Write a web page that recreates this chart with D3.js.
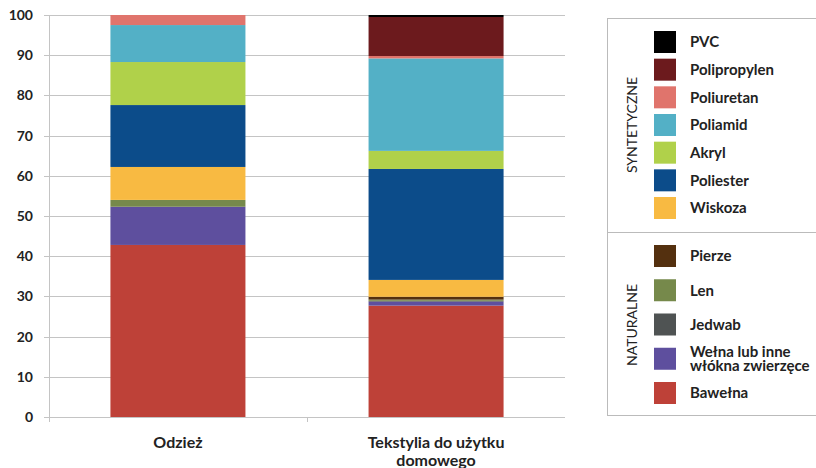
<!DOCTYPE html>
<html lang="pl">
<head>
<meta charset="UTF-8">
<title>Włókna</title>
<style>
    html, body { margin: 0; height: 100%; overflow: hidden; background: #fff; }
    text { font-family: Lato, "Open Sans", sans-serif; }
</style>
<script src="https://d3js.org/d3.v7.min.js"></script>
</head>
<body>
<svg id="svg"></svg>
<script>
    const width = 816, height = 468;
    const svg = d3.select('#svg').attr('width', width).attr('height', height);

    // data
    const categories = ['Odzież', 'Tekstylia do użytku domowego'];
    const categoryLines = [['Odzież'], ['Tekstylia do użytku', 'domowego']];
    const seriesNames = ['Bawełna', 'Wełna lub inne włókna zwierzęce', 'Jedwab', 'Len', 'Pierze',
        'Wiskoza', 'Poliester', 'Akryl', 'Poliamid', 'Poliuretan', 'Polipropylen', 'PVC'];
    const bawelna = [42.8, 27.7];
    const welna = [9.5, 1.0];
    const jedwab = [0, 0.2];
    const len = [1.7, 0.3];
    const pierze = [0, 0.7];
    const wiskoza = [8.2, 4.2];
    const poliester = [15.4, 27.6];
    const akryl = [10.7, 4.5];
    const poliamid = [9.2, 23.0];
    const poliuretan = [2.5, 0.6];
    const polipropylen = [0, 9.7];
    const pvc = [0, 0.5];
    const colors = ['#be4138', '#5e4f9e', '#4f5353', '#76894b', '#54300f',
        '#f8ba42', '#0c4c8a', '#b0d14a', '#53b0c6', '#e0746c', '#6c1a1d', '#000000'];
    const yTicks = [0, 10, 20, 30, 40, 50, 60, 70, 80, 90, 100];

    const seriesValues = [bawelna, welna, jedwab, len, pierze, wiskoza, poliester,
        akryl, poliamid, poliuretan, polipropylen, pvc];
    const table = categories.map((c, i) => {
        const row = { cat: c };
        seriesNames.forEach((s, j) => row[s] = seriesValues[j][i]);
        return row;
    });

    const margin = { top: 15, left: 49, bottom: 51, right: 251 };
    const innerWidth = width - margin.left - margin.right;
    const innerHeight = height - margin.top - margin.bottom;
    const g = svg.append('g').attr('transform', `translate(${margin.left},${margin.top})`);

    const xScale = d3.scaleBand().domain(categories).range([0, innerWidth]).paddingInner(0.477).paddingOuter(0.238);
    const yScale = d3.scaleLinear().domain([0, 100]).range([innerHeight, 0]);
    const color = d3.scaleOrdinal().domain(seriesNames).range(colors);

    // grid
    g.append('g').selectAll('line').data(yTicks).join('line')
        .attr('x1', -5).attr('x2', innerWidth)
        .attr('y1', d => Math.round(yScale(d)) + 0.5).attr('y2', d => Math.round(yScale(d)) + 0.5)
        .attr('stroke', '#c4c4c4').attr('stroke-width', 1);
    g.append('line').attr('x1', 0.5).attr('x2', 0.5).attr('y1', 0).attr('y2', innerHeight + 5)
        .attr('stroke', '#c4c4c4');
    g.append('line').attr('x1', innerWidth / 2 + 0.5).attr('x2', innerWidth / 2 + 0.5)
        .attr('y1', innerHeight).attr('y2', innerHeight + 5).attr('stroke', '#c4c4c4');

    g.append('g').selectAll('text').data(yTicks).join('text')
        .attr('x', -16).attr('y', d => yScale(d)).attr('dy', '0.35em')
        .attr('text-anchor', 'end').attr('font-size', 14).attr('font-weight', 'bold').attr('fill', '#222')
        .text(d => d);

    // bars
    const stack = d3.stack().keys(seriesNames)(table);
    g.selectAll('.series').data(stack).join('g').attr('class', 'series')
        .attr('fill', d => color(d.key))
        .selectAll('rect').data(d => d).join('rect')
        .attr('x', d => xScale(d.data.cat))
        .attr('width', xScale.bandwidth())
        .attr('y', d => yScale(d[1]))
        .attr('height', d => yScale(d[0]) - yScale(d[1]));

    // redraw baseline above bars
    g.append('line').attr('x1', 0).attr('x2', innerWidth)
        .attr('y1', innerHeight + 0.5).attr('y2', innerHeight + 0.5).attr('stroke', '#c4c4c4');

    // category labels
    g.append('g').selectAll('text').data(categories).join('text')
        .attr('x', d => xScale(d) + xScale.bandwidth() / 2)
        .attr('y', innerHeight + 31)
        .attr('text-anchor', 'middle').attr('font-size', 16).attr('font-weight', 'bold').attr('fill', '#222')
        .each(function (d, i) {
            d3.select(this).selectAll('tspan').data(categoryLines[i]).join('tspan')
                .attr('x', xScale(d) + xScale.bandwidth() / 2)
                .attr('dy', (t, k) => k === 0 ? 0 : 18)
                .text(t => t);
        });

    // legend
    const lg = svg.append('g');
    lg.append('rect').attr('x', 607.5).attr('y', 18.5).attr('width', 230).attr('height', 397)
        .attr('fill', 'none').attr('stroke', '#bbb');
    lg.append('line').attr('x1', 607).attr('x2', 816).attr('y1', 232.5).attr('y2', 232.5).attr('stroke', '#bbb');

    const synth = ['PVC', 'Polipropylen', 'Poliuretan', 'Poliamid', 'Akryl', 'Poliester', 'Wiskoza'];
    const natur = ['Pierze', 'Len', 'Jedwab', 'Wełna lub inne włókna zwierzęce', 'Bawełna'];
    const synthY = d3.scalePoint().domain(synth).range([42, 208]);
    const naturY = d3.scalePoint().domain(natur).range([256, 393]);
    const legendLines = { 'Wełna lub inne włókna zwierzęce': ['Wełna lub inne', 'włókna zwierzęce'] };

    function items(names, yS) {
        const it = lg.append('g').selectAll('g').data(names).join('g')
            .attr('transform', d => `translate(654,${yS(d)})`);
        it.append('rect').attr('x', 0).attr('y', -11).attr('width', 22).attr('height', 22)
            .attr('fill', d => color(d));
        it.append('text').attr('x', 36).attr('font-size', 15).attr('font-weight', 'bold').attr('fill', '#222')
            .each(function (d) {
                const lines = legendLines[d] || [d];
                d3.select(this).selectAll('tspan').data(lines).join('tspan')
                    .attr('x', 36)
                    .attr('y', (t, k) => (k - (lines.length - 1) / 2) * 14)
                    .attr('dy', '0.35em')
                    .text(t => t);
            });
    }
    items(synth, synthY);
    items(natur, naturY);

    lg.append('text').attr('transform', 'translate(632,125) rotate(-90)')
        .attr('text-anchor', 'middle').attr('dy', '0.35em').attr('font-size', 14).attr('fill', '#222')
        .text('SYNTETYCZNE');
    lg.append('text').attr('transform', 'translate(632,325) rotate(-90)')
        .attr('text-anchor', 'middle').attr('dy', '0.35em').attr('font-size', 14).attr('fill', '#222')
        .text('NATURALNE');
</script>
</body>
</html>
